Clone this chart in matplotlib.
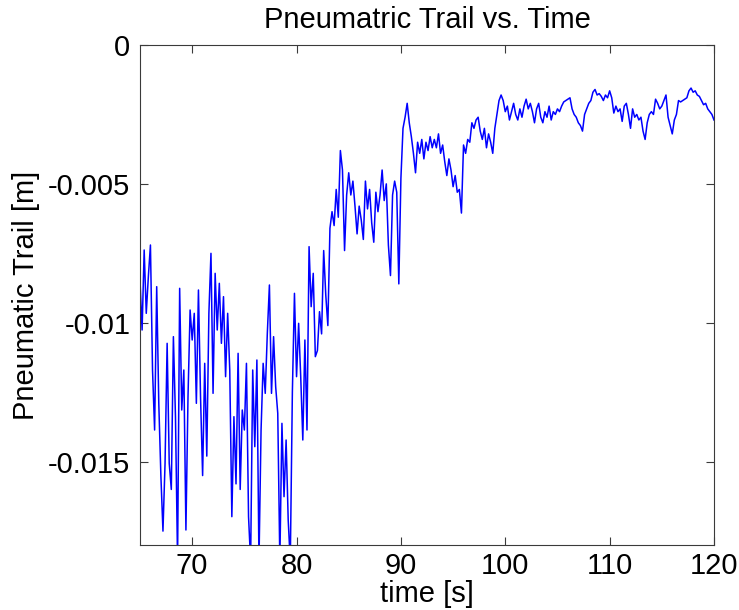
import matplotlib

matplotlib.use("Agg")
import matplotlib.pyplot as plt
import numpy as np
from matplotlib.ticker import FuncFormatter

WIDTH = 739
HEIGHT = 610
DPI = 100

LINE_BLUE = "#0000ff"
FRAME = "#3a3a3a"

# sampling of the recorded signal
TIME_START = 65.0
TIME_STEP = 0.2

# pneumatic trail, in millimetres (one value every 0.2 s)
TRAIL_MM = [
    # 65.0 - 73.4 s
    -8.46, -10.26, -7.38, -9.66, -8.34, -7.2, -11.7, -13.86, -8.7, -12.9,
    -15.5, -17.5, -15.06, -10.74, -15.06, -16.0, -10.5, -13.4, -18.6, -8.76,
    -13.14, -11.7, -17.46, -12.66, -9.54, -10.62, -9.66, -12.9, -8.82, -12.66,
    -15.5, -11.46, -14.8, -9.66, -7.5, -12.54, -8.22, -10.26, -8.58, -10.74,
    -9.06, -11.94, -9.66,
    # 73.6 - 81.8 s
    -11.7, -16.98, -13.38, -15.8, -11.1, -16.0, -13.14, -13.86, -11.46, -16.98,
    -18.6, -11.7, -14.46, -11.34, -18.6, -13.86, -11.46, -12.54, -10.38, -8.64,
    -12.54, -10.5, -12.3, -13.26, -18.6, -13.62, -16.26, -14.22, -17.1, -18.6,
    -12.5, -8.94, -11.94, -10.02, -11.94, -14.22, -10.62, -13.86, -7.26, -9.42,
    -8.22, -11.22,
    # 82.0 - 89.8 s
    -11.0, -9.6, -10.4, -7.4, -9.0, -10.1, -6.6, -6.0, -6.5, -5.2,
    -6.2, -3.8, -4.5, -7.4, -5.4, -4.6, -5.4, -4.9, -5.8, -6.8,
    -5.8, -6.3, -7.0, -4.9, -5.9, -5.2, -6.4, -7.1, -5.3, -6.0,
    -5.4, -4.5, -5.6, -5.0, -7.2, -8.3, -5.4, -4.9, -5.3, -8.6,
    # 90.0 - 100.4 s
    -4.8, -3.0, -2.6, -2.1, -2.8, -3.3, -3.9, -4.6, -3.5, -3.9,
    -3.4, -4.1, -3.5, -3.8, -3.3, -3.7, -3.4, -3.7, -3.2, -3.9,
    -3.6, -4.2, -4.7, -4.1, -4.5, -5.1, -4.7, -5.3, -5.2, -6.05,
    -3.6, -3.9, -3.4, -3.5, -2.8, -3.0, -2.7, -2.6, -3.1, -3.4,
    -3.0, -3.7, -3.2, -3.5, -3.9, -3.0, -2.5, -2.0, -1.8, -2.0,
    -2.4, -2.2, -2.7,
    # 100.6 - 109.8 s
    -2.4, -2.1, -2.5, -2.7, -2.3, -2.6, -2.2, -1.95, -2.3, -2.1,
    -2.4, -2.8, -2.3, -2.1, -2.6, -2.8, -2.4, -2.6, -2.2, -2.7,
    -2.4, -2.5, -2.3, -2.4, -2.2, -2.05, -2.0, -1.95, -1.9, -2.3,
    -2.5, -2.6, -2.8, -2.9, -3.1, -2.5, -2.3, -2.1, -2.0, -1.7,
    -1.6, -1.8, -1.75, -1.85, -2.0, -1.8, -1.9,
    # 110.0 - 120.0 s
    -1.65, -1.9, -2.45, -2.2, -2.4, -2.3, -2.75, -2.2, -2.1, -2.5,
    -3.0, -2.3, -2.6, -2.5, -2.7, -2.6, -3.1, -3.4, -2.8, -2.5,
    -2.4, -2.5, -1.95, -2.1, -2.3, -2.2, -2.0, -1.8, -2.6, -2.9,
    -3.2, -2.7, -2.5, -2.0, -2.05, -2.0, -1.95, -1.9, -1.65, -1.55,
    -1.7, -1.65, -1.8, -1.85, -2.0, -2.15, -2.1, -2.3, -2.4, -2.5,
    -2.7,
]

X_LIMITS = (65, 120)
Y_LIMITS = (-0.018, 0)
X_TICKS = [70, 80, 90, 100, 110, 120]
Y_TICKS = [0, -0.005, -0.01, -0.015]

TITLE = "Pneumatric Trail vs. Time"
X_LABEL = "time [s]"
Y_LABEL = "Pneumatic Trail [m]"


def main():
    plt.rcParams["font.family"] = ["Liberation Sans", "DejaVu Sans"]
    plt.rcParams["font.size"] = 21

    trail = np.array(TRAIL_MM) / 1000.0
    time = TIME_START + TIME_STEP * np.arange(len(trail))

    fig = plt.figure(figsize=(WIDTH / DPI, HEIGHT / DPI), dpi=DPI, facecolor="white")
    ax = fig.add_axes([140 / WIDTH, 65 / HEIGHT, 574 / WIDTH, 500 / HEIGHT])

    ax.plot(time, trail, color=LINE_BLUE, linewidth=1.1)

    ax.set_xlim(*X_LIMITS)
    ax.set_ylim(*Y_LIMITS)
    ax.set_xticks(X_TICKS)
    ax.set_yticks(Y_TICKS)
    ax.yaxis.set_major_formatter(FuncFormatter(lambda v, _: f"{v:g}"))

    ax.tick_params(direction="in", length=6, width=0.8, color=FRAME,
                   top=True, right=True, labelsize=21)
    ax.tick_params(axis="x", pad=5)
    ax.tick_params(axis="y", pad=7)
    for spine in ax.spines.values():
        spine.set_color(FRAME)
        spine.set_linewidth(0.8)

    ax.set_title(TITLE, fontsize=21, pad=12)
    ax.set_xlabel(X_LABEL, fontsize=21, labelpad=0)
    ax.set_ylabel(Y_LABEL, fontsize=21, labelpad=6)

    fig.savefig("out.png", dpi=DPI, facecolor="white")
    plt.close(fig)


if __name__ == "__main__":
    main()
